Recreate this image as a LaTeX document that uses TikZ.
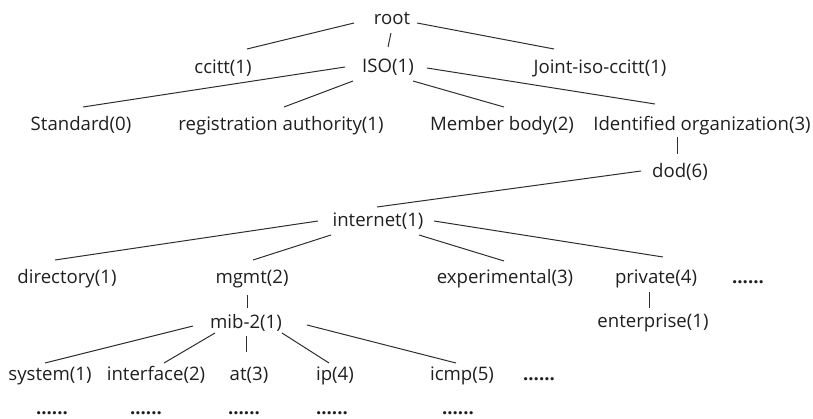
\documentclass[tikz,border=0pt]{standalone}
\usepackage{fontspec}
\setmainfont{Open Sans}
\begin{document}
\begin{tikzpicture}[x=1pt,y=-1pt,
  lbl/.style={inner sep=0pt,anchor=base,font=\fontsize{18.6}{22}\selectfont,text=black!88},
  dotlbl/.style={lbl,font=\fontsize{18.6}{22}\selectfont\bfseries},
  edge/.style={line width=1pt,draw=black!82}]
\useasboundingbox (0,0) rectangle (813,419);
\node[lbl] (root)  at (392,25)  {root};
\node[lbl] (ccitt) at (223,74)  {ccitt(1)};
\node[lbl] (iso)   at (388,73)  {ISO(1)};
\node[lbl] (joint) at (600,74)  {Joint-iso-ccitt(1)};
\node[lbl] (std)   at (81,131)  {Standard(0)};
\node[lbl] (reg)   at (281,131) {registration authority(1)};
\node[lbl] (mem)   at (502,131) {Member body(2)};
\node[lbl] (idorg) at (702,131) {Identified organization(3)};
\node[lbl] (dod)   at (680,178) {dod(6)};
\node[lbl] (inet)  at (378,227) {internet(1)};
\node[lbl] (dir)   at (67,284)  {directory(1)};
\node[lbl] (mgmt)  at (252,284) {mgmt(2)};
\node[lbl] (exp)   at (505,284) {experimental(3)};
\node[lbl] (priv)  at (656,284) {private(4)};
\node[dotlbl] (dotsa) at (748,284) {......};
\node[lbl] (mib)   at (246,328) {mib-2(1)};
\node[lbl] (ent)   at (653,327) {enterprise(1)};
\node[lbl] (sys)   at (50,380)  {system(1)};
\node[lbl] (intf)  at (156,380) {interface(2)};
\node[lbl] (at3)   at (249,380) {at(3)};
\node[lbl] (ip)    at (335,380) {ip(4)};
\node[lbl] (icmp)  at (462,380) {icmp(5)};
\node[dotlbl] (dotsb) at (539,380) {......};
\node[dotlbl] (dotsc) at (52,414)  {......};
\node[dotlbl] (dotsd) at (146,414) {......};
\node[dotlbl] (dotse) at (244,414) {......};
\node[dotlbl] (dotsf) at (332,414) {......};
\node[dotlbl] (dotsg) at (458,414) {......};
\begin{scope}[edge]
\draw ([shift={(-38,-2)}]root.base) -- ([shift={(24,-25)}]ccitt.base);
\draw ([shift={(-1,8)}]root.base) -- ([shift={(0,-26)}]iso.base);
\draw ([shift={(25,-2)}]root.base) -- ([shift={(-46,-25)}]joint.base);
\draw ([shift={(-43,-6)}]iso.base) -- ([shift={(2,-24)}]std.base);
\draw ([shift={(-35,8)}]iso.base) -- ([shift={(3,-24)}]reg.base);
\draw ([shift={(25,8)}]iso.base) -- ([shift={(2,-24)}]mem.base);
\draw ([shift={(39,-5)}]iso.base) -- ([shift={(-47,-27)}]idorg.base);
\draw ([shift={(-25,6)}]idorg.base) -- ([shift={(-3,-24)}]dod.base);
\draw ([shift={(-39,-7)}]dod.base) -- ([shift={(-1,-20)}]inet.base);
\draw ([shift={(-60,-6)}]inet.base) -- ([shift={(-12,-24)}]dir.base);
\draw ([shift={(-47,8)}]inet.base) -- ([shift={(1,-24)}]mgmt.base);
\draw ([shift={(41,8)}]inet.base) -- ([shift={(-1,-23)}]exp.base);
\draw ([shift={(56,-6)}]inet.base) -- ([shift={(7,-27)}]priv.base);
\draw ([shift={(-5,11)}]mgmt.base) -- ([shift={(1,-20)}]mib.base);
\draw ([shift={(-7,8)}]priv.base) -- ([shift={(-4,-19)}]ent.base);
\draw ([shift={(-53,-2)}]mib.base) -- ([shift={(-5,-17)}]sys.base);
\draw ([shift={(-31,5)}]mib.base) -- ([shift={(8,-17)}]intf.base);
\draw ([shift={(0,8)}]mib.base) -- ([shift={(-3,-28)}]at3.base);
\draw ([shift={(36,5)}]mib.base) -- ([shift={(-6,-17)}]ip.base);
\draw ([shift={(61,-3)}]mib.base) -- ([shift={(-6,-17)}]icmp.base);
\end{scope}
\end{tikzpicture}
\end{document}
